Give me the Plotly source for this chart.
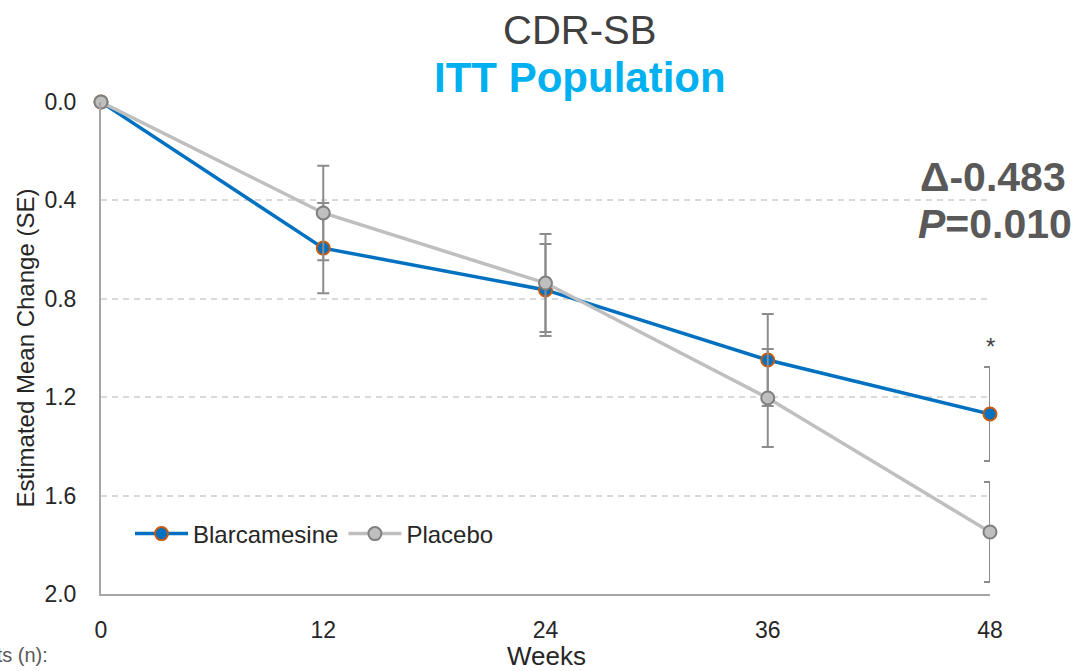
import plotly.graph_objects as go

weeks = [0, 12, 24, 36, 48]
blarc = [0.0, 0.594, 0.764, 1.049, 1.268]
blarc_se = [0.0, 0.183, 0.187, 0.187, 0.191]
placebo = [0.0, 0.451, 0.736, 1.203, 1.748]
placebo_se = [0.0, 0.192, 0.199, 0.199, 0.203]
y_ticks = [0.0, 0.4, 0.8, 1.2, 1.6, 2.0]

FONT = "Liberation Sans, Arial, sans-serif"
ERR = "#8c8c8c"

fig = go.Figure()
fig.add_trace(go.Scatter(
    x=weeks, y=blarc, name="Blarcamesine", mode="lines+markers",
    line=dict(color="#0070c0", width=3.5),
    marker=dict(size=13, color="#0070c0", line=dict(color="#c55a11", width=2)),
    error_y=dict(type="data", array=blarc_se, color=ERR, thickness=2, width=6),
    cliponaxis=False,
))
fig.add_trace(go.Scatter(
    x=weeks, y=placebo, name="Placebo", mode="lines+markers",
    line=dict(color="#bfbfbf", width=3.5),
    marker=dict(size=13, color="#bfbfbf", line=dict(color="#7f7f7f", width=2)),
    error_y=dict(type="data", array=placebo_se, color=ERR, thickness=2, width=6),
    cliponaxis=False,
))

L, R, T, B = 101, 91, 102, 77
W, H = 1081, 671
pw, ph = W - L - R, H - T - B

def px_x(px):
    return (px - L) / pw

def px_y(py):
    return (H - B - py) / ph

annotations = [
    dict(text="CDR-SB", x=px_x(579), y=px_y(30), xref="paper", yref="paper",
         showarrow=False, font=dict(family=FONT, size=40, color="#404040"),
         xanchor="center", yanchor="middle"),
    dict(text="<b>ITT Population</b>", x=px_x(580), y=px_y(78), xref="paper", yref="paper",
         showarrow=False, font=dict(family=FONT, size=42, color="#00b0f0"),
         xanchor="center", yanchor="middle"),
    dict(text="<b>Δ-0.483</b>", x=px_x(1068), y=px_y(177), xref="paper", yref="paper",
         showarrow=False, font=dict(family=FONT, size=41, color="#595959"),
         xanchor="right", yanchor="middle"),
    dict(text="<b><i>P</i>=0.010</b>", x=px_x(1074), y=px_y(224), xref="paper", yref="paper",
         showarrow=False, font=dict(family=FONT, size=41, color="#595959"),
         xanchor="right", yanchor="middle"),
    dict(text="*", x=weeks[-1], y=blarc[-1] - blarc_se[-1], xref="x", yref="y",
         showarrow=False, font=dict(family=FONT, size=24, color="#404040"),
         xanchor="center", yanchor="bottom", yshift=5),
    dict(text="Weeks", x=px_x(546), y=px_y(656), xref="paper", yref="paper",
         showarrow=False, font=dict(family=FONT, size=26, color="#262626"),
         xanchor="center", yanchor="middle"),
    dict(text="Patients (n):", x=px_x(50), y=px_y(655), xref="paper", yref="paper",
         showarrow=False, font=dict(family=FONT, size=20, color="#595959"),
         xanchor="right", yanchor="middle"),
]

fig.update_layout(
    width=W, height=H,
    margin=dict(l=L, r=R, t=T, b=B, pad=0),
    paper_bgcolor="white", plot_bgcolor="white",
    font=dict(family=FONT, color="#262626"),
    showlegend=True,
    legend=dict(orientation="h", x=px_x(130), y=px_y(534), xanchor="left", yanchor="middle",
                font=dict(family=FONT, size=24, color="#262626"), itemwidth=53,
                bgcolor="rgba(0,0,0,0)"),
    annotations=annotations,
)
fig.update_xaxes(
    range=[0, 48], tickvals=weeks, ticktext=[str(w) for w in weeks],
    showgrid=False, zeroline=False, showline=True, linecolor="#a6a6a6", linewidth=2,
    ticks="", tickfont=dict(family=FONT, size=23, color="#262626"), ticklabelstandoff=14,
)
fig.update_yaxes(
    range=[2.0, 0.0], tickvals=y_ticks, ticktext=[f"{v:.1f}" for v in y_ticks],
    showgrid=True, gridcolor="#d9d9d9", gridwidth=1.5, griddash="6px,5px",
    zeroline=False, showline=True, linecolor="#a6a6a6", linewidth=2,
    ticks="", tickfont=dict(family=FONT, size=23, color="#262626"), ticklabelstandoff=18,
    title=dict(text="Estimated Mean Change (SE)", font=dict(family=FONT, size=24, color="#262626"),
               standoff=3),
)

fig.write_html("out.html")
